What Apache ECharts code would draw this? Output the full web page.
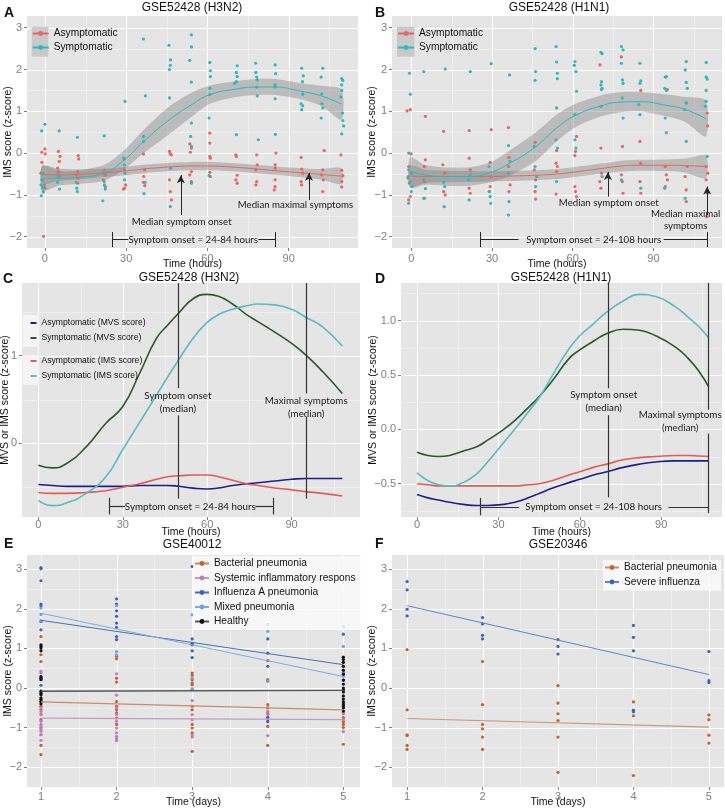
<!DOCTYPE html>
<html>
<head>
<meta charset="utf-8">
<script src="https://cdn.jsdelivr.net/npm/echarts@6/dist/echarts.min.js"></script>
<style>
html, body { margin: 0; padding: 0; background: #fff; }
#chart { width: 725px; height: 810px; }
</style>
</head>
<body>
<div id="chart"></div>
<script>
// ticks
var hourTicks = [0, 30, 60, 90];
var hourMinor = [15, 45, 75, 105];
var imsTicks = [-2, -1, 0, 1, 2, 3];
var imsMinor = [-1.5, -0.5, 0.5, 1.5, 2.5];
var cTicks = [0, 1];
var cMinor = [-0.5, 0.5, 1.5];
var dTicks = [-0.5, 0, 0.5, 1];
var dMinor = [-0.75, -0.25, 0.25, 0.75, 1.25];
var dayTicks = [1, 2, 3, 4, 5];
var dayMinor = [1.5, 2.5, 3.5, 4.5];

// A: GSE52428 (H3N2), IMS score per subject [hour, z]
var asymPtsA = [[-1.2,0.02],[0,0.1],[0.1,-0.02],[-1.1,-0.22],[-1.5,-0.48],[-0.9,-0.64],[-0.2,-0.76],[0.1,-0.84],[-0.6,-0.93],[-0.5,-1.99],
  [5,0.04],[5.6,-0.08],[5.3,-0.2],[4.7,-0.36],[5,-0.44],[5.3,-0.56],
  [12.3,-0.06],[12.5,-0.14],[12.1,-0.44],[11.7,-0.52],[12.2,-0.6],[12.1,-0.72],
  [22,-0.41],[22.3,-0.52],[21.6,-0.64],[22.3,-0.8],
  [29.4,-0.14],[29.4,-0.4],[29.8,-0.76],[29.4,-0.84],[29,-0.86],
  [36.4,-0.02],[36.8,-0.4],[36.5,-0.56],[36.4,-0.7],[36.9,-0.78],
  [46,0.04],[46.3,-0.02],[46.7,-0.04],[46,-0.64],[46.3,-0.92],[46.7,-1.12],
  [53.5,0.22],[54.1,0.12],[53.7,0.02],[54.1,-0.44],[53.5,-0.52],[54.1,-0.68],
  [60.9,0.48],[60.9,0.24],[60.9,-0.08],[61.1,-0.12],[60.9,-0.46],[61.1,-0.56],
  [70.5,-0.04],[70.7,-0.08],[71,-0.53],[70.5,-0.64],[71,-0.72],
  [78.2,-0.04],[78.4,-0.28],[77.9,-0.4],[78.2,-0.68],[77.9,-0.76],
  [85.3,0],[85,-0.28],[85.1,-0.36],[85,-0.64],[85,-0.8],[84.7,-0.88],
  [94.6,-0.1],[94.8,-0.38],[95.2,-0.48],[94.6,-0.68],[94.8,-0.76],
  [103.1,0.06],[102.6,-0.4],[102.2,-0.52],[102.8,-0.64],[102.6,-0.92],
  [109.3,-0.04],[109.6,-0.41],[110,-0.54],[109.6,-0.68],[109.6,-0.81]];
var symPtsA = [[-1.2,0.53],[0,0.69],[-0.8,-0.48],[-1.1,-0.64],[-0.5,-0.8],[-1.4,-0.76],[-0.9,-0.84],[-0.6,-0.92],[-1.3,-1.02],
  [5.3,0.53],[5,-0.56],[4.7,-0.7],[5.4,-0.86],[4.9,-0.5],
  [12,0.38],[11.6,-0.7],[11.8,-0.84],[12,-0.92],
  [21.9,0.41],[21.5,-0.48],[21.9,-0.68],[22,-0.76],[22.3,-0.86],[21.4,-1.14],
  [29.6,1.24],[29.1,-0.12],[29.4,-0.28],[29.6,-0.48],[29.4,-0.64],
  [36.4,2.73],[37.1,1.37],[36.4,0.4],[36.4,0.28],[37,-0.7],[36.6,-0.97],
  [45.8,2.58],[46.4,2.23],[46.3,2.1],[46,2.0],[46,1.32],[46.4,-0.36],[46.3,-1.28],
  [54.1,2.83],[54.1,2.54],[53.5,2.22],[54.1,1.7],[53.8,0.4],[54.1,0.16],[54.1,0.72],[54.1,-0.72],
  [60.9,2.17],[61.1,1.97],[61.1,1.83],[60.9,1.55],[60.9,1.4],[60.6,0.84],[60.6,-0.54],
  [71,2.09],[70.7,1.93],[71,1.83],[70.7,1.71],[70.1,1.67],[70.7,0.44],
  [77.8,2.15],[77.9,1.93],[78.2,1.82],[78.4,1.75],[78.2,1.58],[78.4,1.37],[78.8,0.32],
  [85,2.11],[85.2,1.9],[85,1.63],[85,1.58],[85,1.3],[85.1,0.45],
  [94.8,2.03],[95.4,1.85],[95.1,1.71],[95.2,1.41],[94.6,1.18],[94.8,1.04],[95.2,1.13],
  [102.6,2.03],[102,1.82],[102.2,1.42],[102.2,1.18],[102.6,1.08],[102,0.84],
  [109.6,1.78],[110,1.74],[109.6,1.5],[109.3,1.34],[109.9,0.96],[110,0.78],[110.3,0.65],[109.6,0.46],[109.6,1.63]];
// loess fits with confidence band
var fitHoursA = [-1, 5, 12, 22, 29.5, 36.5, 46, 54, 61, 70.5, 78, 85, 94.5, 102, 109.5];
var asymFitA = [-0.52, -0.52, -0.51, -0.47, -0.43, -0.38, -0.33, -0.31, -0.31, -0.34, -0.38, -0.42, -0.47, -0.51, -0.55];
var asymLoA = [-0.74, -0.67, -0.63, -0.57, -0.53, -0.48, -0.43, -0.41, -0.41, -0.44, -0.48, -0.52, -0.58, -0.64, -0.74];
var asymHiA = [-0.3, -0.37, -0.39, -0.37, -0.33, -0.28, -0.23, -0.21, -0.21, -0.24, -0.28, -0.32, -0.36, -0.38, -0.36];
var symFitA = [-0.6, -0.6, -0.58, -0.47, -0.15, 0.28, 0.8, 1.15, 1.4, 1.53, 1.58, 1.58, 1.48, 1.37, 1.17];
var symLoA = [-0.9, -0.78, -0.74, -0.66, -0.38, 0.0, 0.46, 0.86, 1.18, 1.34, 1.39, 1.39, 1.29, 1.13, 0.8];
var symHiA = [-0.3, -0.42, -0.42, -0.28, 0.08, 0.56, 1.12, 1.44, 1.62, 1.72, 1.77, 1.77, 1.67, 1.61, 1.52];

// B: GSE52428 (H1N1)
var asymPtsB = [[-1.6,1.01],[-0.4,1.04],[-0.1,-0.02],[-1,-0.32],[-1.2,-0.56],[-0.7,-0.72],[-0.4,-1.04],[-1,-1.12],[0,-0.48],
  [5.2,0.88],[5.2,-0.16],[4.8,-0.32],[4.6,-1.08],[4.9,-0.68],
  [12,0.52],[11.7,-0.28],[12.4,-0.48],[12,-0.92],[12.6,-1],
  [21.5,0.54],[21.5,-0.12],[21.9,-0.4],[21.5,-0.84],[21.9,-0.96],
  [29.7,0.56],[29.3,-0.22],[29.7,-0.56],[29.3,-0.8],[29,-0.92],
  [36.1,0.61],[36.3,-0.1],[36.1,-0.32],[36.7,-0.76],[36.3,-0.92],
  [46,0.26],[45.7,-0.4],[46.2,-0.64],[46,-0.92],[46.2,-1.1],
  [54,0.06],[53.8,-0.24],[54.3,-0.32],[54,-0.44],[53.8,-0.98],
  [61.4,0.4],[61,0.04],[60.8,-0.06],[60.8,-0.8],[61,-0.92],[61.4,-1.04],
  [70.1,2.11],[70.5,0.12],[70.7,-0.48],[70.1,-0.68],[70.5,-0.84],
  [78.1,2.3],[78.5,0.16],[78.1,-0.52],[78.4,-0.68],[78.7,-0.96],
  [85.3,1.5],[85,0.28],[85.3,-0.24],[85,-0.68],[85.3,-0.96],
  [95.2,1.52],[94.4,-0.32],[94.8,-0.52],[95.2,-0.64],[94.4,-0.8],
  [102.2,1.2],[102.6,-0.32],[101.8,-0.56],[102.2,-0.88],[102.2,-1.16],
  [110,0.96],[110.2,0.65],[109.6,-0.32],[110.2,-0.48],[109.6,-0.64],[110,-0.96],[109.9,-1.52]];
var symPtsB = [[-0.7,1.91],[-0.4,1.41],[-1,0],[-1,-0.4],[-0.4,-0.68],[0.2,-0.8],[0,-0.92],[-1,-1.2],[0.2,-0.48],[-1.2,-0.6],
  [4.6,1.95],[5.2,-0.85],[4.9,-1.08],[4.6,-0.64],
  [12.6,2.01],[12.2,-1.28],[12,-0.7],[12.4,-0.8],
  [21.9,1.95],[21.5,-1.12],[21.3,-0.64],[21.9,-0.52],
  [29.7,2.14],[29,-0.92],[29.5,-1.2],[29.3,-1.04],[28.9,-0.32],
  [36.5,1.87],[36.1,0.18],[36.7,-0.2],[36.1,-0.48],[36.3,-1.16],[36.1,-1.48],
  [46,2.5],[46.2,1.95],[46,1.74],[45.7,0.16],[46,-0.32],[46.2,-0.8],[46.6,-0.56],
  [53.8,2.55],[54,2.18],[54.3,1.91],[54.3,1.78],[54,1.08],[53.8,0.32],[54,-0.68],[54.3,0.12],
  [60.8,2.19],[60.6,2.1],[61.2,1.95],[61.4,1.48],[60.8,0.92],[60.8,0.32],[61.2,0.12],
  [70.5,2.41],[70.9,2.38],[70.7,1.71],[70.5,1.63],[70.9,1.55],[70.7,1.52],[70.5,1.12],[70.9,-0.56],
  [78.1,2.55],[78.7,2.47],[78.1,2.15],[78.5,1.75],[78.7,1.67],[78.4,1.32],[78.7,0.84],[78.1,-0.64],
  [85,2.15],[85.3,1.73],[85,1.67],[84.6,1.16],[85,0.92],[85.3,-0.84],
  [94.4,1.82],[94.8,1.83],[94.2,1.55],[94.8,1.5],[94.4,0.84],[94.8,0.49],[94.2,-0.84],
  [102.2,2.19],[101.8,1.99],[102.2,1.69],[102.6,1.55],[102.2,1.2],[101.6,1.04],[102.2,0.28],[101.8,-1.08],
  [109.6,2.17],[109.6,1.82],[110,1.77],[109.6,1.5],[109.6,1.24],[109.3,1.12],[110,-0.08]];
var fitHoursB = [-0.5, 5, 12, 21.5, 29.5, 36, 46, 54, 61, 70.5, 78, 85, 95, 102, 109.5];
var asymFitB = [-0.55, -0.56, -0.56, -0.56, -0.56, -0.55, -0.53, -0.5, -0.45, -0.37, -0.31, -0.29, -0.29, -0.3, -0.32];
var asymLoB = [-0.8, -0.72, -0.7, -0.69, -0.68, -0.67, -0.65, -0.62, -0.57, -0.49, -0.44, -0.42, -0.43, -0.47, -0.6];
var asymHiB = [-0.3, -0.4, -0.42, -0.43, -0.44, -0.43, -0.41, -0.38, -0.33, -0.25, -0.18, -0.16, -0.15, -0.13, -0.06];
var symFitB = [-0.44, -0.52, -0.56, -0.56, -0.46, -0.26, 0.14, 0.6, 0.9, 1.13, 1.22, 1.23, 1.14, 1.04, 0.82];
var symLoB = [-0.82, -0.76, -0.78, -0.78, -0.7, -0.56, -0.2, 0.28, 0.62, 0.88, 0.98, 1.0, 0.88, 0.74, 0.4];
var symHiB = [-0.1, -0.28, -0.34, -0.34, -0.22, 0.04, 0.48, 0.92, 1.18, 1.38, 1.46, 1.46, 1.4, 1.34, 1.26];

// C: smoothed MVS / IMS curves, H3N2
var hoursC = [0, 5, 10, 17, 24, 30, 36, 42, 46, 50, 55, 60, 64, 69, 74, 78, 84, 90, 95, 101, 108];
var asymMvsC = [-0.47, -0.48, -0.49, -0.49, -0.49, -0.49, -0.48, -0.48, -0.48, -0.49, -0.51, -0.52, -0.51, -0.48, -0.46, -0.45, -0.43, -0.41, -0.4, -0.4, -0.4];
var symMvsC = [-0.25, -0.28, -0.23, -0.04, 0.23, 0.42, 0.8, 1.2, 1.35, 1.49, 1.65, 1.7, 1.68, 1.59, 1.47, 1.39, 1.27, 1.14, 1.01, 0.82, 0.57];
var asymImsC = [-0.56, -0.57, -0.57, -0.56, -0.54, -0.5, -0.46, -0.41, -0.38, -0.37, -0.36, -0.36, -0.38, -0.42, -0.46, -0.48, -0.51, -0.53, -0.55, -0.57, -0.6];
var symImsC = [-0.65, -0.71, -0.68, -0.57, -0.38, -0.07, 0.24, 0.55, 0.76, 0.96, 1.2, 1.38, 1.47, 1.53, 1.57, 1.59, 1.58, 1.53, 1.44, 1.33, 1.11];

// D: smoothed MVS / IMS curves, H1N1
var hoursD = [0, 4, 8, 12, 17, 22, 26, 32, 36, 41, 45, 50, 56, 60, 65, 70, 76, 82, 88, 95, 100, 104, 107.5];
var asymMvsD = [-0.6, -0.63, -0.65, -0.67, -0.69, -0.7, -0.7, -0.69, -0.67, -0.63, -0.59, -0.54, -0.49, -0.46, -0.42, -0.39, -0.35, -0.32, -0.3, -0.29, -0.29, -0.29, -0.29];
var symMvsD = [-0.21, -0.24, -0.25, -0.24, -0.2, -0.16, -0.1, 0.0, 0.08, 0.2, 0.3, 0.45, 0.65, 0.73, 0.81, 0.88, 0.92, 0.91, 0.86, 0.76, 0.65, 0.53, 0.39];
var asymImsD = [-0.5, -0.51, -0.52, -0.52, -0.52, -0.52, -0.52, -0.52, -0.52, -0.51, -0.5, -0.47, -0.42, -0.39, -0.35, -0.32, -0.28, -0.26, -0.25, -0.24, -0.24, -0.245, -0.25];
var symImsD = [-0.4, -0.47, -0.51, -0.52, -0.49, -0.41, -0.3, -0.12, 0.0, 0.16, 0.29, 0.5, 0.74, 0.86, 0.97, 1.08, 1.18, 1.24, 1.22, 1.13, 1.03, 0.94, 0.84];

// E: GSE40012, values by day 1..5
var bactE = [[1.3, 0.84, 0.67, -0.34, -0.46, -0.55, -0.67, -0.8, -1.01, -1.18, -1.45, -1.68],
  [0.8, 0.74, 0.25, 0.15, -0.34, -0.46, -0.55, -0.63, -0.76, -0.92],
  [0.38, 0.32, 0.21, 0.13, 0.08, -0.46, -0.55, -0.92, -1.01, -1.13, -1.6],
  [0.69, 0.21, 0.18, -0.42, -0.5, -0.63, -0.8, -0.97, -1.45],
  [0.65, 0.55, -0.38, -0.5, -0.62, -0.75, -0.85, -0.92, -1.0, -1.42]];
var sirsE = [[0.42, 0.38, -0.5, -0.59, -0.67, -0.84, -0.92, -0.97, -1.03, -1.09, -1.18, -1.32],
  [0.36, -0.18, -0.5, -0.67, -0.84, -1.01, -1.13, -1.22, -1.28, -1.33],
  [-0.32, -0.67, -0.8, -1.18, -1.24],
  [-0.59, -0.67, -0.76, -1.2],
  [-0.65, -0.8, -1.1]];
var fluE = [[3.04, 3.01, 2.71, 2.12, 2.08, 1.68, 1.47, 0.07],
  [2.25, 2.12, 1.95, 1.81, 1.64, 1.53, 1.3, 1.22],
  [3.07, 1.24, 1.13, 1.09, 0.94, 0.77, -0.04],
  [1.61, 1.24, 0.88, 0.55, -0.74, -0.85],
  [1.55, 1.36, 0.38, 0.2]];
var mixedE = [[2.02, 1.86, 1.7, 0.25], [2.08, 0.92, 0.84], [1.85, 0.25, -0.02], [1.43, 0.17], [1.05, 0.4, 0.3]];
var healthyE = [[1.09, 1.05, 1.01, 0.94, 0.29, 0.25, 0.21, -0.08, -0.13, -0.17, -0.25, -0.29, -0.34, -0.4],
  [], [], [],
  [0.78, 0.72, 0.65, 0.55, 0.45, 0.35, 0.2, 0.1, 0.0, -0.05, -0.1, -0.2, -0.28, -0.35, -0.42, -0.45, -0.5, -0.58]];
var fitDays = [1, 5];
var bactFitE = [-0.35, -0.55];
var sirsFitE = [-0.76, -0.8];
var fluFitE = [1.71, 0.59];
var mixedFitE = [1.89, 0.29];
var healthyFitE = [-0.08, -0.06];

// F: GSE20346
var bactF = [[0.97, -0.55, -1.18, -1.2, -1.45, -1.55],
  [0.67, -0.42, -0.92, -1.03, -1.24, -1.55],
  [0.06, -0.38, -0.65, -0.82, -1.24, -2.13],
  [-0.35, -0.7, -2.21],
  [-0.68, -0.8, -1.19, -1.39]];
var severeF = [[2.69, 2.48, 1.99, 1.82],
  [1.78, 1.62, 1.33, 1.24],
  [1.22, 1.05, 0.86],
  [1.58, 1.28, 0.94, -0.56, -0.6],
  [0.92, 0.19, 0.14]];
var bactFitF = [-0.77, -0.99];
var severeFitF = [2.08, 0.34];

var BG = '#E5E5E5';
var SANS = 'Liberation Sans';
var ANNO = 'Lato';
var RED = '#E8665E', TEAL = '#2FB8BC';

function zip(xs, ys) {
    return xs.map(function (x, i) { return [x, ys[i]]; });
}
function byDay(lists) {
    var out = [];
    lists.forEach(function (vals, i) {
        vals.forEach(function (v) { out.push([dayTicks[i], v]); });
    });
    return out;
}
function minus(v) {
    return String(v).replace('-', '\u2212');
}

// grids and axes
var panels = [
    { grid: { left: 27, top: 16, width: 331, height: 232 }, x: [-6.6, 115.6], y: [-2.27, 3.28], xt: hourTicks, xm: hourMinor, yt: imsTicks, ym: imsMinor, xName: 'Time (hours)', yName: 'IMS score (z-score)', xGap: 11, yGap: 13, xMargin: 5 },
    { grid: { left: 392, top: 16, width: 330, height: 232 }, x: [-7.2, 115.5], y: [-2.27, 3.28], xt: hourTicks, xm: hourMinor, yt: imsTicks, ym: imsMinor, xName: 'Time (hours)', yName: 'IMS score (z-score)', xGap: 11, yGap: 14, xMargin: 5 },
    { grid: { left: 22, top: 283, width: 338, height: 234 }, x: [-5.8, 114.3], y: [-0.84, 1.83], xt: hourTicks, xm: hourMinor, yt: cTicks, ym: cMinor, xName: 'Time (hours)', yName: 'MVS or IMS score (z-score)', xGap: 10, yGap: 11, xMargin: 2 },
    { grid: { left: 401, top: 283, width: 321, height: 234 }, x: [-5.9, 112.4], y: [-0.806, 1.345], xt: hourTicks, xm: hourMinor, yt: dTicks, ym: dMinor, xName: 'Time (hours)', yName: 'MVS or IMS score (z-score)', xGap: 10, yGap: 22, xMargin: 2, fixed: true },
    { grid: { left: 27, top: 555, width: 333, height: 232 }, x: [0.815, 5.22], y: [-2.5, 3.36], xt: dayTicks, xm: dayMinor, yt: imsTicks, ym: imsMinor, xName: 'Time (days)', yName: 'IMS score (z-score)', xGap: 10, yGap: 13, xMargin: 4 },
    { grid: { left: 392, top: 555, width: 332, height: 232 }, x: [0.8, 5.2], y: [-2.5, 3.36], xt: dayTicks, xm: dayMinor, yt: imsTicks, ym: imsMinor, xName: 'Time (days)', yName: 'IMS score (z-score)', xGap: 10, yGap: 14, xMargin: 4 }
];

var grids = [], xAxes = [], yAxes = [];
panels.forEach(function (p, i) {
    var g = p.grid;
    grids.push({ left: g.left, top: g.top, width: g.width, height: g.height, show: true, backgroundColor: BG, borderWidth: 0, outerBoundsMode: 'none', containLabel: false });
    var fmtY = p.fixed ? function (v) { return minus(v.toFixed(1)); } : minus;
    xAxes.push({
        type: 'value', gridIndex: i, min: p.x[0], max: p.x[1], position: 'bottom',
        name: p.xName, nameLocation: 'middle', nameGap: p.xGap, nameMoveOverlap: false,
        nameTextStyle: { fontFamily: SANS, fontSize: 10.5, color: '#111' },
        axisLine: { show: false, onZero: false },
        axisTick: { show: true, length: 3, lineStyle: { color: '#7F7F7F' }, customValues: p.xt },
        axisLabel: { customValues: p.xt, margin: p.xMargin, fontFamily: SANS, fontSize: 11, color: '#7F7F7F', formatter: minus },
        splitLine: { show: false }
    });
    yAxes.push({
        type: 'value', gridIndex: i, min: p.y[0], max: p.y[1], position: 'left',
        name: p.yName, nameLocation: 'middle', nameGap: p.yGap, nameMoveOverlap: false,
        nameTextStyle: { fontFamily: SANS, fontSize: 10.5, color: '#111' },
        axisLine: { show: false, onZero: false },
        axisTick: { show: true, length: 3, lineStyle: { color: '#7F7F7F' }, customValues: p.yt },
        axisLabel: { customValues: p.yt, margin: 5, fontFamily: SANS, fontSize: 11, color: '#7F7F7F', formatter: fmtY },
        splitLine: { show: false }
    });
});

// grid lines (major white, minor light) placed through each panel's scales
function gridLines(p, i) {
    var rows = [];
    p.xt.forEach(function (v) { rows.push([v, 0]); });
    p.xm.forEach(function (v) { rows.push([v, 1]); });
    p.yt.forEach(function (v) { rows.push([v, 2]); });
    p.ym.forEach(function (v) { rows.push([v, 3]); });
    return {
        type: 'custom', xAxisIndex: i, yAxisIndex: i, silent: true, z: 0.5, clip: true,
        data: rows,
        renderItem: function (params, api) {
            var v = api.value(0), kind = api.value(1), cs = params.coordSys;
            var major = kind === 0 || kind === 2;
            var style = { stroke: major ? '#FFFFFF' : '#F2F2F2', lineWidth: major ? 1 : 0.7 };
            if (kind < 2) {
                var px = Math.round(api.coord([v, p.y[0]])[0]) + 0.5;
                return { type: 'line', shape: { x1: px, y1: cs.y, x2: px, y2: cs.y + cs.height }, style: style };
            }
            var py = Math.round(api.coord([p.x[0], v])[1]) + 0.5;
            return { type: 'line', shape: { x1: cs.x, y1: py, x2: cs.x + cs.width, y2: py }, style: style };
        }
    };
}

// series helpers
function fitLine(name, gi, xs, ys, color, width, smooth) {
    return {
        type: 'line', name: name, xAxisIndex: gi, yAxisIndex: gi,
        data: zip(xs, ys), smooth: smooth, showSymbol: false, symbol: 'circle', symbolSize: 5,
        lineStyle: { color: color, width: width }, itemStyle: { color: color }, z: 4, silent: true
    };
}
function bandSeries(gi, xs, lo, hi) {
    return {
        type: 'custom', xAxisIndex: gi, yAxisIndex: gi, silent: true, z: 1, clip: true,
        data: [[xs[0], lo[0]]],
        renderItem: function (params, api) {
            var pts = [];
            for (var i = 0; i < xs.length; i++) pts.push(api.coord([xs[i], hi[i]]));
            for (var j = xs.length - 1; j >= 0; j--) pts.push(api.coord([xs[j], lo[j]]));
            return { type: 'polygon', shape: { points: pts, smooth: 0.25 }, style: { fill: 'rgba(125,125,125,0.4)' } };
        }
    };
}
function dots(name, gi, data, color) {
    return {
        type: 'scatter', name: name, xAxisIndex: gi, yAxisIndex: gi, data: data,
        symbolSize: 3.2, itemStyle: { color: color, opacity: 1 }, z: 3, silent: true
    };
}
function curve(name, gi, xs, ys, color) {
    return {
        type: 'line', name: name, xAxisIndex: gi, yAxisIndex: gi, data: zip(xs, ys),
        smooth: 0.5, symbol: 'none', lineStyle: { color: color, width: 1.6 }, itemStyle: { color: color }, z: 3, silent: true
    };
}
function seg(x0, y0, x1, y1) {
    return [{ coord: [x0, y0], symbol: 'none' }, { coord: [x1, y1], symbol: 'none' }];
}
function arrow(x, y0, y1) {
    return [{ coord: [x, y0], symbol: 'none' }, { coord: [x, y1], symbol: 'arrow', symbolSize: [6, 8] }];
}
function lines(items) {
    return { silent: true, animation: false, label: { show: false }, lineStyle: { color: '#262626', width: 1, type: 'solid' }, emphasis: { disabled: true }, data: items };
}
function notes(items, size) {
    return {
        silent: true, animation: false, symbol: 'rect', symbolSize: 1, itemStyle: { color: 'rgba(0,0,0,0)' },
        label: { show: true, position: 'inside', formatter: '{b}', fontFamily: ANNO, fontSize: size, lineHeight: size + 3, color: '#1A1A1A' },
        data: items.map(function (t) { return { name: t[0], coord: [t[1], t[2]] }; })
    };
}

var series = panels.map(gridLines);
// A
var aAsym = fitLine('Asymptomatic', 0, fitHoursA, asymFitA, RED, 1, 0.5);
var aSym = fitLine('Symptomatic', 0, fitHoursA, symFitA, TEAL, 1, 0.5);
aAsym.markLine = lines([
    arrow(50.2, -1.48, -0.53), arrow(97.5, -1.12, -0.47),
    seg(24.9, -2.07, 30.8, -2.07), seg(78.8, -2.07, 85, -2.07),
    seg(24.9, -2.25, 24.9, -1.89), seg(85, -2.25, 85, -1.89)
]);
aAsym.markPoint = notes([['Median symptom onset', 50.5, -1.64], ['Median maximal symptoms', 92.5, -1.25], ['Symptom onset = 24-84 hours', 54.8, -2.07]], 9.7);
series.push(aAsym, aSym, bandSeries(0, fitHoursA, asymLoA, asymHiA), bandSeries(0, fitHoursA, symLoA, symHiA),
    dots('Asymptomatic', 0, asymPtsA, RED), dots('Symptomatic', 0, symPtsA, TEAL));
// B
var bAsym = fitLine('Asymptomatic', 1, fitHoursB, asymFitB, RED, 1, 0.5);
var bSym = fitLine('Symptomatic', 1, fitHoursB, symFitB, TEAL, 1, 0.5);
bAsym.markLine = lines([
    arrow(73.1, -1.04, -0.45), arrow(110, -1.48, -0.8),
    seg(25.6, -2.07, 39.9, -2.07), seg(93.8, -2.07, 110, -2.07),
    seg(25.6, -2.25, 25.6, -1.89), seg(110, -2.25, 110, -1.89)
]);
bAsym.markPoint = notes([['Median symptom onset', 73.4, -1.2], ['Median maximal\nsymptoms', 102, -1.6], ['Symptom onset = 24-108 hours', 67.8, -2.07]], 9.7);
series.push(bAsym, bSym, bandSeries(1, fitHoursB, asymLoB, asymHiB), bandSeries(1, fitHoursB, symLoB, symHiB),
    dots('Asymptomatic', 1, asymPtsB, RED), dots('Symptomatic', 1, symPtsB, TEAL));
// C
var NAVY = '#1E1E8E', GREEN = '#2A5A28', RED2 = '#E35B55', TEAL2 = '#5BBAC3';
var cNavy = curve('Asymptomatic (MVS score)', 2, hoursC, asymMvsC, NAVY);
cNavy.markLine = lines([
    seg(49.6, 1.83, 49.6, 0.63), seg(49.6, 0.32, 49.6, -0.63),
    seg(95.2, 1.83, 95.2, 0.57), seg(95.2, 0.3, 95.2, -0.63),
    seg(25.2, -0.72, 30.8, -0.72), seg(77.1, -0.72, 83.4, -0.72),
    seg(25.2, -0.62, 25.2, -0.81), seg(83.4, -0.62, 83.4, -0.81)
]);
cNavy.markLine.lineStyle = { color: '#333', width: 1.2, type: 'solid' };
cNavy.markPoint = notes([['Symptom onset\n(median)', 49.6, 0.47], ['Maximal symptoms\n(median)', 95.2, 0.41], ['Symptom onset = 24-84 hours', 54, -0.72]], 9.8);
series.push(cNavy,
    curve('Symptomatic (MVS score)', 2, hoursC, symMvsC, GREEN),
    curve('Asymptomatic (IMS score)', 2, hoursC, asymImsC, RED2),
    curve('Symptomatic (IMS score)', 2, hoursC, symImsC, TEAL2));
// D
var dNavy = curve('Asymptomatic (MVS score)', 3, hoursD, asymMvsD, NAVY);
dNavy.markLine = lines([
    seg(70.4, 1.345, 70.4, 0.377), seg(70.4, 0.13, 70.4, -0.625),
    seg(107.5, 1.345, 107.5, 0.18), seg(107.5, -0.04, 107.5, -0.77),
    seg(23.3, -0.717, 37.5, -0.717), seg(92.7, -0.717, 107.5, -0.717),
    seg(23.3, -0.63, 23.3, -0.79)
]);
dNavy.markLine.lineStyle = { color: '#333', width: 1.2, type: 'solid' };
dNavy.markPoint = notes([['Symptom onset\n(median)', 68.8, 0.26], ['Maximal symptoms\n(median)', 97, 0.07], ['Symptom onset = 24-108 hours', 65.1, -0.717]], 9.8);
series.push(dNavy,
    curve('Symptomatic (MVS score)', 3, hoursD, symMvsD, GREEN),
    curve('Asymptomatic (IMS score)', 3, hoursD, asymImsD, RED2),
    curve('Symptomatic (IMS score)', 3, hoursD, symImsD, TEAL2));
// E
var ORANGE = '#C8602A', PINK = '#C07ABF', BLUE = '#3A62BE', LIGHT = '#6BA3E3';
var eLines = [
    fitLine('Bacterial pneumonia', 4, fitDays, bactFitE, '#C98C68', 1.2, false),
    fitLine('Systemic inflammatory response', 4, fitDays, sirsFitE, '#C69AC5', 1.2, false),
    fitLine('Influenza A pneumonia', 4, fitDays, fluFitE, '#4A6DBE', 1, false),
    fitLine('Mixed pneumonia', 4, fitDays, mixedFitE, '#7EADE4', 1, false),
    fitLine('Healthy', 4, fitDays, healthyFitE, '#555555', 1.4, false)
];
[ORANGE, PINK, BLUE, LIGHT, '#111111'].forEach(function (c, k) { eLines[k].itemStyle = { color: c }; });
series.push.apply(series, eLines);
series.push(
    dots('Bacterial pneumonia', 4, byDay(bactE), ORANGE),
    dots('Systemic inflammatory response', 4, byDay(sirsE), PINK),
    dots('Influenza A pneumonia', 4, byDay(fluE), BLUE),
    dots('Mixed pneumonia', 4, byDay(mixedE), LIGHT),
    dots('Healthy', 4, byDay(healthyE), '#111111')
);
// F
var fBact = fitLine('Bacterial pneumonia', 5, fitDays, bactFitF, '#C99A7C', 1.2, false);
fBact.itemStyle = { color: ORANGE };
var fFlu = fitLine('Severe influenza', 5, fitDays, severeFitF, '#5E86CC', 1, false);
fFlu.itemStyle = { color: BLUE };
series.push(fBact, fFlu,
    dots('Bacterial pneumonia', 5, byDay(bactF), ORANGE),
    dots('Severe influenza', 5, byDay(severeF), BLUE));

// titles
function t(text, left, top, bold) {
    return {
        text: text, left: left, top: top, padding: 0, textAlign: bold ? 'left' : 'center',
        textStyle: { fontFamily: SANS, fontSize: bold ? 14 : 12, fontWeight: bold ? 'bold' : 'normal', color: '#111' }
    };
}
var titles = [
    t('A', 4, 6, true), t('GSE52428 (H3N2)', 192, 1.5),
    t('B', 375, 6, true), t('GSE52428 (H1N1)', 559, 1.5),
    t('C', 3, 272, true), t('GSE52428 (H3N2)', 189, 272),
    t('D', 375, 272, true), t('GSE52428 (H1N1)', 561, 272),
    t('E', 4, 537, true), t('GSE40012', 192, 539),
    t('F', 375, 537, true), t('GSE20346', 558, 539)
];

function legend(names, left, top, opt) {
    var l = {
        data: names, left: left, top: top, orient: 'vertical', padding: 0, itemGap: 1,
        itemWidth: 16, itemHeight: 6, z: 10, selectedMode: false,
        textStyle: { fontFamily: SANS, fontSize: 10.2, color: '#111', lineHeight: 13 }
    };
    for (var k in opt) l[k] = opt[k];
    return l;
}
var smallText = { fontFamily: SANS, fontSize: 8.6, color: '#111', lineHeight: 12 };
var keyText = { fontFamily: SANS, fontSize: 10.2, color: '#111', lineHeight: 13, width: 147, overflow: 'truncate', ellipsis: '' };
var legends = [
    legend(['Asymptomatic', 'Symptomatic'], 31.7, 27, {}),
    legend(['Asymptomatic', 'Symptomatic'], 397, 27, {}),
    legend(['Asymptomatic (MVS score)', 'Symptomatic (MVS score)'], 29.5, 317, { itemWidth: 6, itemHeight: 2, itemGap: 3, textStyle: smallText }),
    legend(['Asymptomatic (IMS score)', 'Symptomatic (IMS score)'], 29.5, 355, { itemWidth: 6, itemHeight: 2, itemGap: 3, textStyle: smallText }),
    legend(['Bacterial pneumonia', 'Systemic inflammatory response', 'Influenza A pneumonia', 'Mixed pneumonia', 'Healthy'], 193, 556, { itemWidth: 14, itemGap: 1.5, padding: [1, 0, 2, 1], backgroundColor: 'rgba(250,250,250,0.85)', textStyle: keyText }),
    legend(['Bacterial pneumonia', 'Severe influenza'], 603, 560, { itemWidth: 14, itemGap: 1.5, padding: [1, 4, 2, 1], backgroundColor: 'rgba(250,250,250,0.85)' })
];

var chart = echarts.init(document.getElementById('chart'), null, { renderer: 'canvas' });
chart.setOption({
    animation: false,
    backgroundColor: '#FFFFFF',
    title: titles,
    legend: legends,
    grid: grids,
    xAxis: xAxes,
    yAxis: yAxes,
    graphic: {
        elements: [
            { type: 'rect', left: 31.7, top: 26.7, shape: { width: 16.6, height: 30 }, style: { fill: '#C9C9C9' }, z: 5 },
            { type: 'rect', left: 397, top: 26.7, shape: { width: 17.5, height: 30 }, style: { fill: '#C9C9C9' }, z: 5 },
            { type: 'rect', left: 22.7, top: 315, shape: { width: 16.6, height: 32 }, style: { fill: '#F4F4F4' }, z: 5 },
            { type: 'rect', left: 22.7, top: 355, shape: { width: 16.6, height: 30 }, style: { fill: '#F4F4F4' }, z: 5 }
        ]
    },
    series: series
});
</script>
</body>
</html>
